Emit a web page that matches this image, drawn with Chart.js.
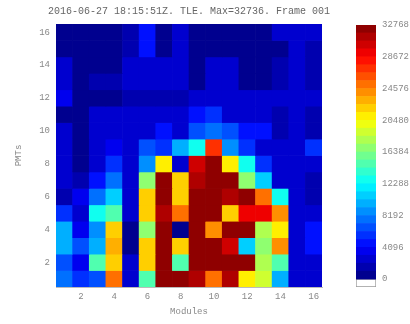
<!DOCTYPE html>
<html>
<head>
<meta charset="utf-8">
<script src="https://cdn.jsdelivr.net/npm/chart.js@4"></script>
<style>
  body { margin: 0; background: #fff; }
  #main { position: absolute; left: 0; top: 0; width: 410px; height: 324px; }
  #cbar { position: absolute; left: 340px; top: 0; width: 70px; height: 324px; }
</style>
</head>
<body>
<div id="main"><canvas id="heat"></canvas></div>
<div id="cbar"><canvas id="scale"></canvas></div>
<script>
const chartTitle = '2016-06-27 18:15:51Z. TLE. Max=32736. Frame 001';
const modules = ['1','2','3','4','5','6','7','8','9','10','11','12','13','14','15','16'];
const pmts = [16,15,14,13,12,11,10,9,8,7,6,5,4,3,2,1];
// counts per PMT row (16 at top down to 1), one value per module
const counts = [
  [600,600,600,600,1640,4900,600,2460,600,600,600,600,600,2050,2870,2460],
  [600,600,600,600,1640,4900,600,2870,600,600,600,600,600,600,2870,1640],
  [2050,600,600,600,2050,2870,2050,2870,600,2870,2050,600,600,1640,2870,1640],
  [2050,600,1640,1640,2050,2050,2050,2870,600,2050,2050,600,600,1640,2870,1640],
  [3280,600,820,200,1640,1640,1640,1640,2460,2460,2050,2050,2050,2050,2870,2870],
  [400,400,2050,2050,2050,2050,2050,2460,4096,6140,2460,2460,2050,1640,2870,1640],
  [2050,820,2050,2050,2050,2050,4096,2460,6960,7780,6550,4096,4096,1640,2870,1640],
  [2050,820,2050,3280,2050,6960,5730,9420,12288,27030,8600,6140,2460,2460,2870,5730],
  [2050,820,2870,5730,2050,9000,20480,2870,30300,32500,20480,12288,6140,2870,2870,2870],
  [2050,1640,4096,7780,2050,16384,32000,21700,30720,32500,32500,16384,11060,2870,2870,1640],
  [1230,3690,7370,11060,2050,21700,32500,21700,32500,32500,30720,32500,24576,12288,2870,1640],
  [5320,2870,12288,14336,2050,22500,30720,24576,32500,32500,22500,28672,28672,24170,2870,2870],
  [9420,3690,8600,21700,820,17000,32500,820,32500,24170,32500,32500,18430,20480,2870,4096],
  [9420,6550,9420,23350,820,21700,32500,21700,32500,32500,29900,10240,16384,24170,2870,4096],
  [6550,3690,14400,22500,2870,21700,32500,14700,32500,32500,32500,32500,17610,14745,2870,2870],
  [7780,5730,6550,25400,2870,14745,32500,32500,31540,25400,30720,20480,19250,9420,2870,2870]
];
const xTicks = [2,4,6,8,10,12,14,16];
const yTicks = [2,4,6,8,10,12,14,16];
const cbTicks = [0,4096,8192,12288,16384,20480,24576,28672,32768];
const maxCount = 32768;
const nLevels = 32;

const mono = 'Liberation Mono';
const txt = '#888';

function clamp(v) { return Math.max(0, Math.min(1, v)); }
function jetAt(t) {
  const r = clamp(1.5 - Math.abs(4 * t - 3));
  const g = clamp(1.5 - Math.abs(4 * t - 2));
  const b = clamp(1.5 - Math.abs(4 * t - 1));
  return 'rgb(' + Math.round(r * 255) + ',' + Math.round(g * 255) + ',' + Math.round(b * 255) + ')';
}
// palette has 32 discrete colours
function jet(v) {
  const lvl = Math.min(Math.floor(v / maxCount * nLevels), nLevels - 1);
  return jetAt((lvl + 0.5) / nLevels);
}

const heat = new Chart(document.getElementById('heat'), {
  type: 'bar',
  data: {
    labels: modules,
    datasets: pmts.map((p, i) => ({
      data: counts[i].map(() => [p - 0.5, p + 0.5]),
      backgroundColor: counts[i].map(jet),
      borderWidth: 0,
      grouped: false,
      barPercentage: 1,
      categoryPercentage: 1
    }))
  },
  options: {
    responsive: true,
    maintainAspectRatio: false,
    animation: false,
    layout: { padding: { left: 0, right: 32, top: 0, bottom: 0 } },
    plugins: {
      legend: { display: false },
      tooltip: { enabled: false },
      title: {
        display: true,
        text: chartTitle,
        color: '#666',
        font: { family: mono, size: 10, weight: 'normal' },
        padding: { top: 5, bottom: 7 }
      }
    },
    scales: {
      x: {
        afterFit: s => { s.height = 37; },
        grid: { display: false, drawTicks: false },
        border: { color: '#bbb' },
        ticks: {
          color: txt, font: { family: mono, size: 9 }, autoSkip: false, maxRotation: 0, padding: 4,
          callback: (v, i) => xTicks.includes(i + 1) ? modules[i] : ''
        },
        title: { display: true, text: 'Modules', color: txt, font: { family: mono, size: 9 }, padding: { top: 0, bottom: 7 } }
      },
      y: {
        type: 'linear', min: 0.5, max: 16.5,
        afterBuildTicks: s => { s.ticks = yTicks.map(v => ({ value: v })); },
        afterFit: s => { s.width = 56; },
        grid: { display: false, drawTicks: false },
        border: { color: '#bbb' },
        ticks: { color: txt, font: { family: mono, size: 9 }, padding: 6 },
        title: { display: true, text: 'PMTs', color: txt, font: { family: mono, size: 9 }, padding: { top: 13, bottom: 0 } }
      },
      y2: {
        position: 'right',
        afterFit: s => { s.width = 56; },
        grid: { display: false, drawTicks: false },
        border: { display: false },
        ticks: { display: false }
      }
    }
  }
});

const levelSets = [];
for (let i = 0; i < nLevels; i++) {
  const lo = i * maxCount / nLevels;
  levelSets.push({
    data: [[lo, lo + maxCount / nLevels]],
    backgroundColor: jet(lo),
    borderWidth: 0,
    grouped: false,
    barPercentage: 1,
    categoryPercentage: 1
  });
}
levelSets.push({
  data: [[-1024, 0]],
  backgroundColor: '#fff',
  borderColor: '#999',
  borderWidth: 1,
  borderSkipped: false,
  grouped: false,
  barPercentage: 1,
  categoryPercentage: 1
});

const scaleChart = new Chart(document.getElementById('scale'), {
  type: 'bar',
  data: { labels: [''], datasets: levelSets },
  options: {
    responsive: true,
    maintainAspectRatio: false,
    animation: false,
    layout: { padding: { left: 16, right: 0, top: 25, bottom: 37 } },
    plugins: { legend: { display: false }, tooltip: { enabled: false } },
    scales: {
      x: { display: false },
      y: {
        position: 'right',
        min: -1024, max: 32768,
        afterBuildTicks: s => { s.ticks = cbTicks.map(v => ({ value: v })); },
        afterFit: s => { s.width = 34; },
        grid: { display: false, drawTicks: false },
        border: { display: false },
        ticks: { color: txt, font: { family: mono, size: 9 }, padding: 6, callback: v => String(v) }
      }
    }
  }
});
</script>
</body>
</html>
